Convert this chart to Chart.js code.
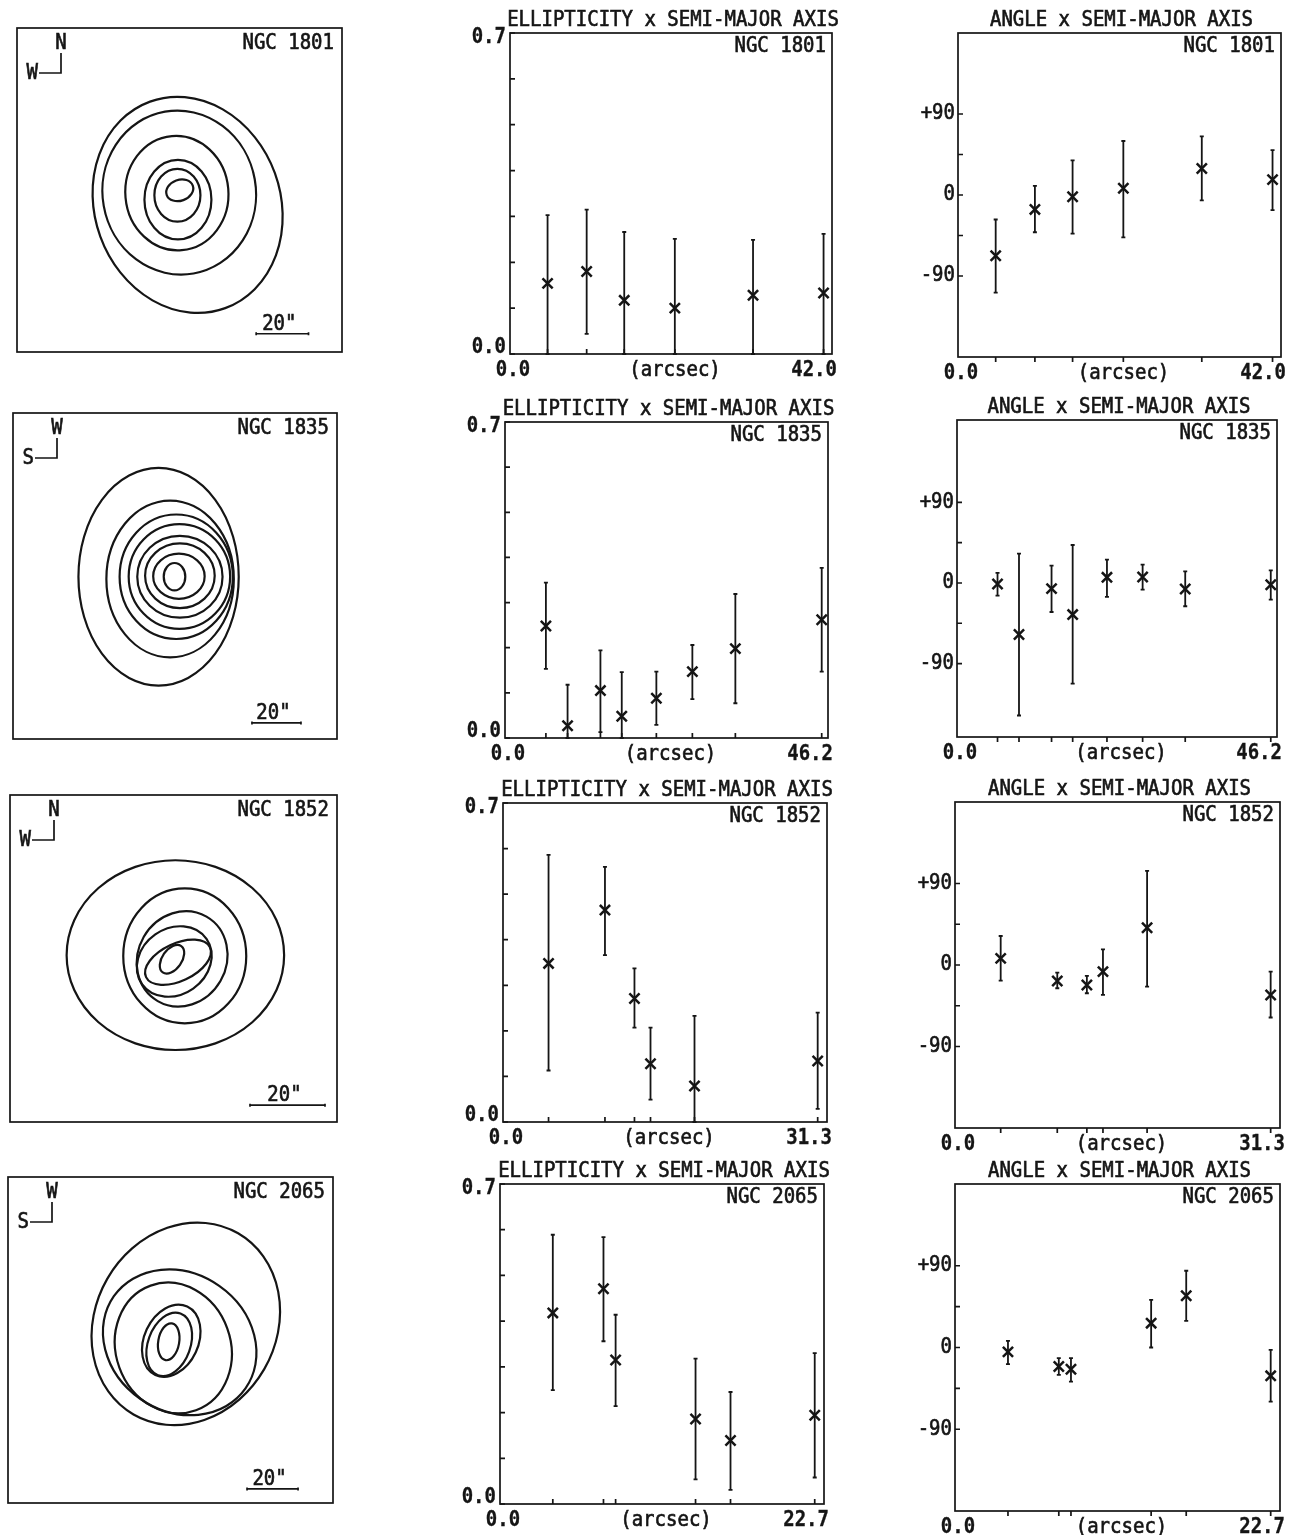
<!DOCTYPE html>
<html>
<head>
<meta charset="utf-8">
<script src="https://cdn.jsdelivr.net/npm/chart.js@4.4.1/dist/chart.umd.min.js"></script>
<style>
  body { margin: 0; background: #fff; width: 1291px; height: 1535px; position: relative; overflow: hidden; }
  canvas { position: absolute; }
</style>
</head>
<body>
<script>
// ---- data ----
const galaxyNames = ['NGC 1801', 'NGC 1835', 'NGC 1852', 'NGC 2065'];
const smaMax = [42.0, 46.2, 31.3, 22.7];
const smaAxisLabels = [['0.0', '(arcsec)', '42.0'], ['0.0', '(arcsec)', '46.2'],
                       ['0.0', '(arcsec)', '31.3'], ['0.0', '(arcsec)', '22.7']];
const compassUp = ['N', 'W', 'N', 'W'];
const compassLeft = ['W', 'S', 'W', 'S'];

// semi-major axis (arcsec) of the fitted isophotes
const sma1801 = [4.9, 10.0, 14.9, 21.5, 31.7, 40.9];
const sma1835 = [5.85, 8.95, 13.65, 16.7, 21.65, 26.8, 32.95, 45.3];
const sma1852 = [4.4, 9.85, 12.7, 14.25, 18.5, 30.4];
const sma2065 = [3.7, 7.25, 8.1, 13.7, 16.15, 22.05];

// ellipticity with error bar ends
const ell1801   = [0.154, 0.180, 0.117, 0.100, 0.128, 0.133];
const ellLo1801 = [0.0, 0.044, 0.0, 0.0, 0.0, 0.0];
const ellHi1801 = [0.303, 0.315, 0.266, 0.251, 0.249, 0.262];
const ell1835   = [0.248, 0.027, 0.105, 0.048, 0.088, 0.147, 0.198, 0.262];
const ellLo1835 = [0.153, 0.0, 0.013, 0.0, 0.029, 0.086, 0.077, 0.147];
const ellHi1835 = [0.344, 0.118, 0.194, 0.146, 0.147, 0.206, 0.319, 0.377];
const ell1852   = [0.348, 0.465, 0.271, 0.128, 0.079, 0.134];
const ellLo1852 = [0.113, 0.366, 0.207, 0.049, 0.0, 0.029];
const ellHi1852 = [0.586, 0.560, 0.337, 0.207, 0.233, 0.240];
const ell2065   = [0.418, 0.471, 0.315, 0.186, 0.139, 0.194];
const ellLo2065 = [0.249, 0.356, 0.214, 0.054, 0.031, 0.058];
const ellHi2065 = [0.589, 0.584, 0.414, 0.318, 0.245, 0.330];

// position angle (deg) with error bar ends
const pa1801   = [-67.5, -16.0, -1.9, 7.5, 29.4, 17.1];
const paLo1801 = [-108.4, -41.4, -42.9, -47.0, -6.0, -16.8];
const paHi1801 = [-27.2, 10.1, 38.4, 60.0, 65.2, 49.9];
const pa1835   = [-1.1, -57.6, -6.3, -35.3, 6.3, 6.7, -6.7, -1.9];
const paLo1835 = [-14.1, -148.0, -32.4, -112.3, -15.6, -7.4, -26.0, -18.6];
const paHi1835 = [11.2, 32.7, 19.3, 42.4, 26.0, 20.5, 13.0, 14.1];
const pa1852   = [7.3, -17.6, -22.0, -7.3, 41.1, -33.1];
const paLo1852 = [-17.3, -25.7, -31.2, -33.1, -23.9, -58.0];
const paHi1852 = [32.0, -8.4, -12.1, 17.3, 104.0, -7.3];
const pa2065   = [-4.8, -20.9, -23.9, 26.8, 56.9, -31.2];
const paLo2065 = [-18.4, -30.1, -37.5, 0.0, 29.4, -59.5];
const paHi2065 = [7.3, -11.8, -11.8, 52.5, 84.5, -2.6];

const ellTickValues = [0, 0.1, 0.2, 0.3, 0.4, 0.5, 0.6, 0.7];
const ellTickLabels = ['0.0', '', '', '', '', '', '', '0.7'];
const paTickValues = [-90, -45, 0, 45, 90];
const paTickLabels = ['-90', '', '0', '', '+90'];
const paRanges = [[-180, 180], [-172, 182], [-180, 180], [-180, 180]];

// isophotes: [x0, y0, semi-major, semi-minor, axis angle from +x in deg], arcsec
const iso1801 = [[3.1, -5.7, 42.0, 35.5, 110], [-0.1, -1.0, 31.4, 29.3, 100], [-1.0, -1.2, 21.9, 19.7, 95],
                 [-0.6, -3.7, 15.2, 12.8, 90], [-0.8, -2.0, 10.1, 8.8, 90], [0.1, -0.1, 5.3, 4.0, 20]];
const iso1835 = [[-6.7, -0.3, 44.4, 32.7, 90], [-2.0, -1.2, 32.0, 26.0, 90], [0.5, -0.3, 25.4, 23.1, 90],
                 [1.8, -0.2, 21.4, 20.7, 90], [2.0, -0.3, 17.4, 16.7, 0], [2.0, 0.1, 14.2, 13.2, 0],
                 [1.6, -0.1, 10.5, 9.2, 0], [-0.2, -0.3, 5.6, 4.4, 90]];
const iso1852 = [[0.5, 0.9, 29.0, 25.3, 0], [3.0, 0.7, 18.0, 16.4, 90], [2.3, -0.1, 13.0, 11.8, 60],
                 [0.2, -0.8, 10.5, 8.8, 35], [1.2, -1.0, 9.4, 5.0, 25], [-0.4, -0.2, 4.3, 2.6, 55]];
const iso2065 = [[6.0, 6.3, 41.0, 35.5, 60], [3.6, -0.9, 31.5, 27.0, -35], [1.1, -3.1, 26.0, 22.5, 110],
                 [0.3, -0.3, 14.8, 10.6, 65], [-0.5, -1.7, 12.9, 8.3, 70], [-0.7, -0.7, 7.3, 4.1, 80]];
const mapHalfSpan = [62.1, 66.1, 43.6, 63.7];          // arcsec from centre to frame
const scaleBarStart = [[29.3, -55.1], [31.4, -59.6], [20.4, -39.1], [30.0, -58.2]];
const scaleBarLength = 20;

const smaAll = [sma1801, sma1835, sma1852, sma2065];
const ellAll = [ell1801, ell1835, ell1852, ell2065];
const ellLoAll = [ellLo1801, ellLo1835, ellLo1852, ellLo2065];
const ellHiAll = [ellHi1801, ellHi1835, ellHi1852, ellHi2065];
const paAll = [pa1801, pa1835, pa1852, pa2065];
const paLoAll = [paLo1801, paLo1835, paLo1852, paLo2065];
const paHiAll = [paHi1801, paHi1835, paHi1852, paHi2065];
const isoAll = [iso1801, iso1835, iso1852, iso2065];

// ---- page layout: plot frames [left, top, right, bottom] ----
const mapBoxes = [[17, 28, 342, 352], [13, 413, 337, 739], [10, 795, 337, 1122], [8, 1177, 333, 1503]];
const ellBoxes = [[510, 33, 832, 354], [505, 422, 828, 738], [503, 803, 827, 1122], [500, 1184, 824, 1504]];
const paBoxes  = [[958, 33, 1281, 357], [957, 420, 1277, 737], [955, 802, 1280, 1128], [955, 1184, 1280, 1511]];

const INK = '#151515';
const FONT = '"DejaVu Sans Mono", "Liberation Mono", monospace';
Chart.defaults.font.family = FONT;
Chart.defaults.color = INK;

// plotter-like lettering: slightly tall, slightly heavy
function label(ctx, s, x, y, align, baseline, bold) {
  ctx.save();
  ctx.font = (bold ? 'bold ' : '') + '19px ' + FONT;
  ctx.textAlign = align;
  ctx.textBaseline = baseline;
  ctx.fillStyle = INK;
  ctx.strokeStyle = INK;
  ctx.lineWidth = bold ? 0.3 : 0.6;
  ctx.translate(x, y);
  ctx.scale(1, 1.1);
  ctx.fillText(s, 0, 0);
  ctx.strokeText(s, 0, 0);
  ctx.restore();
}

function addCanvas(box, pad) {
  const cv = document.createElement('canvas');
  const w = box[2] - box[0] + pad.left + pad.right;
  const h = box[3] - box[1] + pad.top + pad.bottom;
  cv.width = w;
  cv.height = h;
  cv.style.cssText = 'left:' + (box[0] - pad.left) + 'px;top:' + (box[1] - pad.top) + 'px;width:' + w + 'px;height:' + h + 'px';
  document.body.appendChild(cv);
  return cv;
}

function makeProfilePlugin(cfg) {
  return {
    id: 'profile',
    beforeDatasetsDraw(chart) {
      const {ctx, scales: {x, y}} = chart;
      ctx.save();
      ctx.strokeStyle = INK;
      ctx.lineWidth = 1.8;
      cfg.x.forEach((v, i) => {
        const px = x.getPixelForValue(v);
        const lo = y.getPixelForValue(cfg.lo[i]);
        const hi = y.getPixelForValue(cfg.hi[i]);
        ctx.beginPath();
        ctx.moveTo(px, lo); ctx.lineTo(px, hi);
        ctx.moveTo(px - 2, lo); ctx.lineTo(px + 2, lo);
        ctx.moveTo(px - 2, hi); ctx.lineTo(px + 2, hi);
        ctx.stroke();
      });
      ctx.restore();
    },
    afterDraw(chart) {
      const {ctx, chartArea: a, scales: {x, y}} = chart;
      ctx.save();
      ctx.strokeStyle = INK;
      ctx.lineWidth = 1.7;
      ctx.strokeRect(a.left, a.top, a.width, a.height);

      // tick marks from the scales
      ctx.beginPath();
      x.ticks.forEach(t => {
        const px = x.getPixelForValue(t.value);
        ctx.moveTo(px, a.bottom);
        ctx.lineTo(px, a.bottom + cfg.xTickDir * 5);
      });
      y.ticks.forEach(t => {
        const py = y.getPixelForValue(t.value);
        ctx.moveTo(a.left, py);
        ctx.lineTo(a.left + 5, py);
      });
      ctx.stroke();
      ctx.restore();

      // title and galaxy name
      label(ctx, cfg.title, (a.left + a.right) / 2 + 2, a.top - 7, 'center', 'alphabetic');
      label(ctx, cfg.name, a.right - 6, a.top + 19, 'right', 'alphabetic');

      // y tick labels
      const last = y.ticks.length - 1;
      y.ticks.forEach((t, i) => {
        if (!t.label) return;
        const py = y.getPixelForValue(t.value);
        if (cfg.kind === 'ell') {
          label(ctx, t.label, a.left - 4, i === last ? py + 10 : py - 1, 'right', 'alphabetic', true);
        } else {
          label(ctx, t.label, a.left - 3, py, 'right', 'middle');
        }
      });

      // x axis labels
      const by = a.bottom + 22;
      label(ctx, cfg.xLabels[0], x.getPixelForValue(0) + 3, by, 'center', 'alphabetic', true);
      label(ctx, cfg.xLabels[1], x.getPixelForValue(cfg.xMax / 2) + 4, by, 'center', 'alphabetic');
      label(ctx, cfg.xLabels[2], x.getPixelForValue(cfg.xMax) + 5, by, 'right', 'alphabetic', true);
    }
  };
}

function profileChart(box, cfg) {
  const pad = {left: 50, top: 32, right: 10, bottom: 28};
  const cv = addCanvas(box, pad);
  return new Chart(cv, {
    type: 'scatter',
    data: {
      datasets: [{
        data: cfg.x.map((v, i) => ({x: v, y: cfg.y[i]})),
        pointStyle: 'crossRot',
        pointRadius: 7.2,
        pointBorderWidth: 2.5,
        borderColor: INK,
        backgroundColor: INK
      }]
    },
    options: {
      responsive: false,
      animation: false,
      events: [],
      layout: {padding: pad},
      plugins: {legend: {display: false}, tooltip: {enabled: false}},
      scales: {
        x: {
          type: 'linear', display: false, min: 0, max: cfg.xMax,
          afterBuildTicks: ax => { ax.ticks = cfg.x.map(v => ({value: v})); }
        },
        y: {
          type: 'linear', display: false, min: cfg.yMin, max: cfg.yMax,
          afterBuildTicks: ax => { ax.ticks = cfg.yTicks.map(v => ({value: v})); },
          ticks: {callback: (v, i) => cfg.yTickLabels[i]}
        }
      }
    },
    plugins: [makeProfilePlugin(cfg)]
  });
}

function makeMapPlugin(i) {
  return {
    id: 'isophotes',
    afterDraw(chart) {
      const {ctx, chartArea: a, scales: {x, y}} = chart;
      const k = x.getPixelForValue(1) - x.getPixelForValue(0);
      ctx.save();
      ctx.strokeStyle = INK;
      ctx.lineWidth = 1.7;
      ctx.strokeRect(a.left, a.top, a.width, a.height);

      ctx.lineWidth = 2.2;
      isoAll[i].forEach(([cx, cy, sa, sb, ang]) => {
        ctx.beginPath();
        ctx.ellipse(x.getPixelForValue(cx), y.getPixelForValue(cy), sa * k, sb * k,
                    -ang * Math.PI / 180, 0, 2 * Math.PI);
        ctx.stroke();
      });

      // scale bar
      const [bx, byv] = scaleBarStart[i];
      const x0 = x.getPixelForValue(bx), x1 = x.getPixelForValue(bx + scaleBarLength);
      const yb = y.getPixelForValue(byv);
      ctx.lineWidth = 1.7;
      ctx.beginPath();
      ctx.moveTo(x0, yb); ctx.lineTo(x1, yb);
      ctx.moveTo(x0, yb - 1.5); ctx.lineTo(x0, yb + 1.5);
      ctx.moveTo(x1, yb - 1.5); ctx.lineTo(x1, yb + 1.5);
      ctx.stroke();

      // orientation arrows
      ctx.beginPath();
      ctx.moveTo(a.left + 44, a.top + 25);
      ctx.lineTo(a.left + 44, a.top + 45);
      ctx.lineTo(a.left + 22, a.top + 45);
      ctx.stroke();
      ctx.restore();

      label(ctx, scaleBarLength + '"', (x0 + x1) / 2 - 3, yb - 4, 'center', 'alphabetic');
      label(ctx, galaxyNames[i], a.right - 8, a.top + 21, 'right', 'alphabetic');
      label(ctx, compassUp[i], a.left + 44, a.top + 21, 'center', 'alphabetic');
      label(ctx, compassLeft[i], a.left + 21, a.top + 51, 'right', 'alphabetic');
    }
  };
}

function mapChart(i) {
  const pad = {left: 4, top: 4, right: 4, bottom: 4};
  const cv = addCanvas(mapBoxes[i], pad);
  const h = mapHalfSpan[i];
  return new Chart(cv, {
    type: 'scatter',
    data: {datasets: []},
    options: {
      responsive: false,
      animation: false,
      events: [],
      layout: {padding: pad},
      plugins: {legend: {display: false}, tooltip: {enabled: false}},
      scales: {
        x: {type: 'linear', display: false, min: -h, max: h},
        y: {type: 'linear', display: false, min: -h, max: h}
      }
    },
    plugins: [makeMapPlugin(i)]
  });
}

for (let i = 0; i < 4; i++) {
  mapChart(i);
  profileChart(ellBoxes[i], {
    kind: 'ell', title: 'ELLIPTICITY x SEMI-MAJOR AXIS', name: galaxyNames[i],
    x: smaAll[i], y: ellAll[i], lo: ellLoAll[i], hi: ellHiAll[i],
    xMax: smaMax[i], xLabels: smaAxisLabels[i], xTickDir: -1,
    yMin: 0, yMax: 0.7, yTicks: ellTickValues, yTickLabels: ellTickLabels
  });
  profileChart(paBoxes[i], {
    kind: 'pa', title: 'ANGLE x SEMI-MAJOR AXIS', name: galaxyNames[i],
    x: smaAll[i], y: paAll[i], lo: paLoAll[i], hi: paHiAll[i],
    xMax: smaMax[i], xLabels: smaAxisLabels[i], xTickDir: 1,
    yMin: paRanges[i][0], yMax: paRanges[i][1], yTicks: paTickValues, yTickLabels: paTickLabels
  });
}
</script>
</body>
</html>
